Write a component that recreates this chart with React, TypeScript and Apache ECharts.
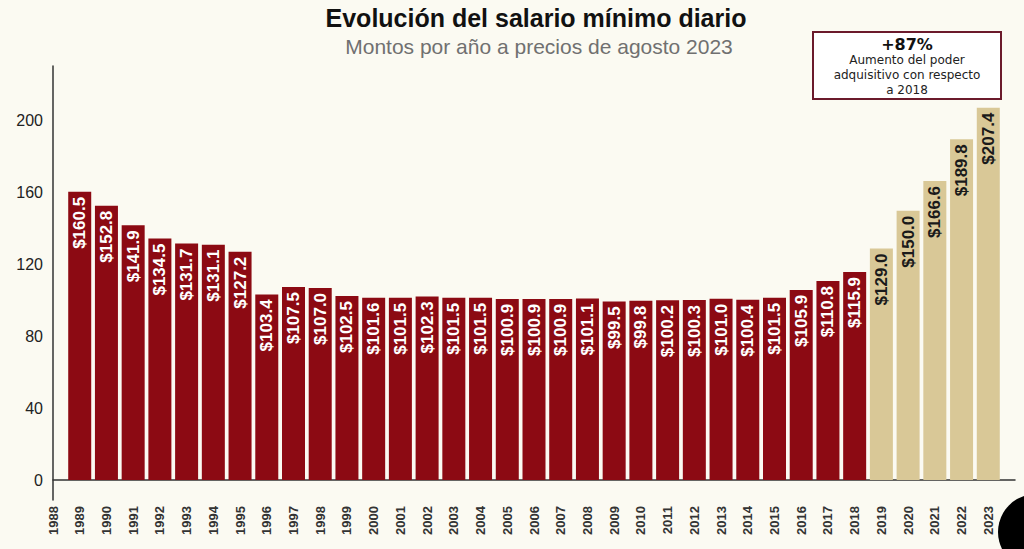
import React, { useEffect, useRef } from "react";
import * as echarts from "echarts";

const years = [1989,1990,1991,1992,1993,1994,1995,1996,1997,1998,1999,2000,2001,2002,2003,2004,2005,2006,2007,2008,2009,2010,2011,2012,2013,2014,2015,2016,2017,2018,2019,2020,2021,2022,2023];
const salaries = [160.5,152.8,141.9,134.5,131.7,131.1,127.2,103.4,107.5,107.0,102.5,101.6,101.5,102.3,101.5,101.5,100.9,100.9,100.9,101.1,99.5,99.8,100.2,100.3,101.0,100.4,101.5,105.9,110.8,115.9,129.0,150.0,166.6,189.8,207.4];
const yTicks = [0, 40, 80, 120, 160, 200];
const titleText = "Evolución del salario mínimo diario";
const subtitleText = "Montos por año a precios de agosto 2023";
const boxHeadline = "+87%";
const boxLines = ["Aumento del poder", "adquisitivo con respecto", "a 2018"];
const firstNewYear = 2019;

export default function App() {
  const ref = useRef<HTMLDivElement>(null);
  useEffect(() => {
    if (!ref.current) return;
    const chart = echarts.init(ref.current, null, { renderer: "svg" });
    const red = "#8C0A13";
    const tan = "#D9C897";
    const data = years.map((y, i) => {
      const isNew = y >= firstNewYear;
      return {
        value: [y, salaries[i]],
        itemStyle: { color: isNew ? tan : red },
        label: { color: isNew ? "#1a1a1a" : "#ffffff" },
      };
    });
    chart.setOption({
      animation: false,
      backgroundColor: "#FBFAF2",
      title: [
        {
          text: titleText,
          left: 531,
          top: 0,
          textAlign: "center",
          textStyle: { fontFamily: "Liberation Sans", fontSize: 25, fontWeight: "bold", color: "#111" },
        },
        {
          text: subtitleText,
          left: 534,
          top: 31,
          textAlign: "center",
          textStyle: { fontFamily: "Liberation Sans", fontSize: 21, fontWeight: "normal", color: "#707070" },
        },
      ],
      grid: { left: 53, right: 9, top: 66, bottom: 49 },
      xAxis: {
        type: "value",
        min: 1988,
        max: 2024,
        interval: 1,
        splitLine: { show: false },
        axisTick: { show: false },
        axisLine: { show: true, lineStyle: { color: "#333", width: 1.5 } },
        axisLabel: {
          rotate: 90,
          margin: 6,
          fontFamily: "Liberation Sans",
          fontSize: 13,
          fontWeight: "bold",
          color: "#333",
          formatter: (v: number) => (v >= 2024 ? "" : String(v)),
        },
      },
      yAxis: {
        type: "value",
        min: -11.1,
        max: 230.6,
        splitLine: { show: false },
        axisTick: { show: false },
        axisLine: { show: true, lineStyle: { color: "#333", width: 1.5 } },
        axisLabel: {
          customValues: yTicks,
          margin: 10,
          fontFamily: "Liberation Sans",
          fontSize: 16,
          color: "#222",
        },
      },
      series: [
        {
          type: "bar",
          barWidth: 23,
          data,
          label: {
            show: true,
            position: "insideTop",
            rotate: 90,
            align: "right",
            verticalAlign: "middle",
            distance: 5,
            fontFamily: "Liberation Sans",
            fontSize: 17,
            fontWeight: "bold",
            formatter: (p: any) => "$" + Number(p.value[1]).toFixed(1),
          },
        },
      ],
      graphic: [
        {
          type: "rect",
          shape: { x: 813, y: 32, width: 188, height: 67 },
          style: { fill: "#ffffff", stroke: "#6B1A2B", lineWidth: 2 },
        },
        {
          type: "text",
          x: 907,
          y: 44,
          style: {
            text: boxHeadline,
            fontFamily: "DejaVu Sans",
            fontSize: 16,
            fontWeight: "bold",
            fill: "#111",
            align: "center",
            verticalAlign: "middle",
          },
        },
        ...boxLines.map((t, i) => ({
          type: "text",
          x: 907,
          y: 60 + i * 15,
          style: {
            text: t,
            fontFamily: "DejaVu Sans",
            fontSize: 12,
            fill: "#222",
            align: "center",
            verticalAlign: "middle",
          },
        })),
        {
          type: "circle",
          shape: { cx: 1036, cy: 532, r: 38 },
          style: { fill: "#000" },
        },
      ],
    });
    return () => chart.dispose();
  }, []);
  return <div ref={ref} style={{ position: "fixed", left: 0, top: 0, width: 1024, height: 549 }} />;
}
